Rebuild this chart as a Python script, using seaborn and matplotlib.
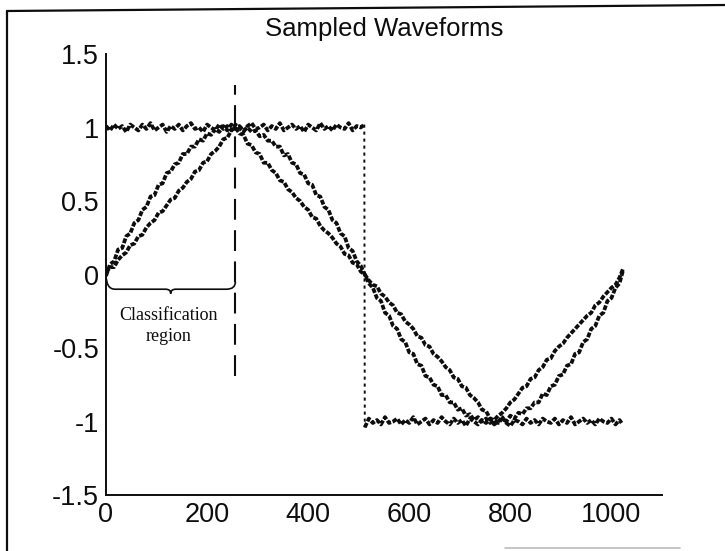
import numpy as np
import pandas as pd
import matplotlib
matplotlib.use("Agg")
import matplotlib.pyplot as plt
from matplotlib.path import Path
from matplotlib.patches import PathPatch
from matplotlib.lines import Line2D
import seaborn as sns

# ---------------- data ----------------
sample_index = list(range(0, 1024, 8)) + [1023]

sine_values = [
    -0.01, 0.07, 0.09, 0.17, 0.18, 0.26, 0.28, 0.35, 0.37, 0.44, 0.46, 0.53, 0.54, 0.61, 0.62, 0.69,
    0.70, 0.75, 0.76, 0.82, 0.82, 0.87, 0.87, 0.92, 0.91, 0.96, 0.95, 0.99, 0.97, 1.01, 0.98, 1.02,
    0.99, 1.01, 0.98, 1.00, 0.97, 0.98, 0.94, 0.95, 0.91, 0.91, 0.87, 0.87, 0.81, 0.82, 0.76, 0.75,
    0.69, 0.68, 0.62, 0.61, 0.54, 0.53, 0.46, 0.44, 0.37, 0.35, 0.28, 0.26, 0.18, 0.16, 0.09, 0.06,
    0.00, -0.06, -0.09, -0.16, -0.18, -0.26, -0.28, -0.35, -0.37, -0.44, -0.46, -0.53, -0.54, -0.61, -0.62, -0.69,
    -0.70, -0.75, -0.76, -0.82, -0.82, -0.87, -0.87, -0.92, -0.91, -0.96, -0.95, -0.99, -0.97, -1.00, -0.98, -1.01,
    -0.99, -1.01, -0.98, -1.00, -0.96, -0.98, -0.94, -0.95, -0.91, -0.91, -0.87, -0.87, -0.81, -0.82, -0.76, -0.75,
    -0.69, -0.68, -0.62, -0.61, -0.54, -0.53, -0.46, -0.44, -0.37, -0.35, -0.28, -0.26, -0.18, -0.16, -0.09, -0.06,
    0.03,
]

triangle_values = [
    0.01, 0.05, 0.05, 0.10, 0.13, 0.15, 0.20, 0.21, 0.26, 0.27, 0.32, 0.35, 0.37, 0.42, 0.43, 0.47,
    0.51, 0.52, 0.57, 0.59, 0.63, 0.65, 0.70, 0.71, 0.76, 0.77, 0.82, 0.84, 0.87, 0.92, 0.93, 0.98,
    1.00, 0.96, 0.95, 0.89, 0.88, 0.83, 0.82, 0.76, 0.76, 0.71, 0.69, 0.64, 0.63, 0.58, 0.56, 0.52,
    0.50, 0.46, 0.44, 0.39, 0.38, 0.33, 0.30, 0.28, 0.25, 0.21, 0.19, 0.14, 0.13, 0.08, 0.07, 0.02,
    0.00, -0.04, -0.07, -0.08, -0.13, -0.15, -0.19, -0.21, -0.26, -0.27, -0.32, -0.34, -0.37, -0.42, -0.43, -0.48,
    -0.49, -0.54, -0.56, -0.59, -0.63, -0.65, -0.70, -0.71, -0.76, -0.77, -0.82, -0.84, -0.87, -0.92, -0.93, -0.98,
    -0.99, -0.96, -0.94, -0.91, -0.87, -0.85, -0.81, -0.77, -0.76, -0.71, -0.70, -0.65, -0.63, -0.58, -0.57, -0.52,
    -0.49, -0.47, -0.43, -0.40, -0.37, -0.34, -0.31, -0.28, -0.26, -0.21, -0.19, -0.15, -0.12, -0.09, -0.07, -0.02,
    0.04,
]

square_high_index = list(range(0, 512, 8)) + [511]
square_high_values = [
    1.01, 0.98, 1.02, 0.99, 1.01, 0.97, 1.02, 1.00, 0.98, 1.02, 0.99, 1.03, 0.98, 1.00, 1.02, 0.97,
    1.01, 0.99, 1.02, 0.98, 1.01, 1.03, 0.99, 1.00, 0.97, 1.02, 1.00, 0.98, 1.02, 0.99, 1.01, 0.98,
    1.02, 1.00, 0.97, 1.01, 1.03, 0.99, 1.00, 1.02, 0.98, 1.01, 0.99, 1.03, 0.98, 1.00, 1.02, 0.99,
    1.01, 0.97, 1.02, 1.00, 0.98, 1.03, 0.99, 1.01, 0.98, 1.02, 1.00, 0.99, 1.03, 0.98, 1.01, 1.00,
    1.02,
]
square_low_index = list(range(512, 1024, 8)) + [1020]
square_low_values = [
    -1.04, -0.98, -1.01, -0.99, -1.02, -0.97, -1.01, -1.00, -0.98, -1.02, -0.99, -1.01, -0.97, -1.02, -1.00, -0.98,
    -1.02, -0.99, -1.01, -0.97, -1.00, -1.02, -0.98, -1.01, -0.99, -1.03, -0.98, -1.00, -1.02, -0.99, -1.01, -0.98,
    -1.02, -1.00, -0.97, -1.01, -1.03, -0.99, -1.00, -1.02, -0.98, -1.01, -0.99, -1.02, -0.98, -1.00, -1.01, -0.98,
    -1.02, -0.99, -1.01, -0.97, -1.02, -1.00, -0.98, -1.01, -0.99, -1.02, -0.98, -1.00, -1.01, -0.98, -1.02, -0.99,
    -1.01,
]

x_ticks = [0, 200, 400, 600, 800, 1000]
x_tick_labels = ["0", "200", "400", "600", "800", "1000"]
y_ticks = [-1.5, -1, -0.5, 0, 0.5, 1, 1.5]
y_tick_labels = ["-1.5", "-1", "-0.5", "0", "0.5", "1", "1.5"]

region_start, region_end = 0, 256
marker_line_span = (-0.69, 1.29)

title_text = "Sampled Waveforms"
region_label = "Classification\nregion"

# ---------------- figure ----------------
sns.set_theme(style="white")
plt.rcParams["font.family"] = ["Liberation Sans", "DejaVu Sans"]

fig = plt.figure(figsize=(7.25, 5.51), dpi=100)
fig.patch.set_facecolor("white")
ax = fig.add_axes([0.1462, 0.1016, 0.7669, 0.8004])
ax.set_facecolor("white")

ink = "#0d0d0d"
trace_style = dict(color=ink, linewidth=2.7, dashes=(1.3, 0.45), legend=False,
                   sort=False, estimator=None)

df_sine = pd.DataFrame({"n": sample_index, "v": sine_values})
df_tri = pd.DataFrame({"n": sample_index, "v": triangle_values})
df_sqh = pd.DataFrame({"n": square_high_index, "v": square_high_values})
df_sql = pd.DataFrame({"n": square_low_index, "v": square_low_values})

sns.lineplot(data=df_sine, x="n", y="v", ax=ax, **trace_style)
sns.lineplot(data=df_tri, x="n", y="v", ax=ax, **trace_style)
sns.lineplot(data=df_sqh, x="n", y="v", ax=ax, **trace_style)
sns.lineplot(data=df_sql, x="n", y="v", ax=ax, **trace_style)

# square-wave transition (dotted)
ax.plot([square_high_index[-1], square_low_index[0]],
        [square_high_values[-1], square_low_values[0]],
        color=ink, linewidth=1.4, linestyle=(0, (1.6, 2.0)))

# classification boundary (dashed)
ax.plot([region_end, region_end], list(marker_line_span),
        color=ink, linewidth=1.5, linestyle=(0, (10, 5)))

# brace under the classification region
yl, yb, yr = 0.0, -0.10, -0.05
tip = yb - 0.03
xm = (region_start + region_end) / 2
verts = [
    (region_start, yl),
    (region_start, yb), (region_start + 18, yb),
    (xm - 10, yb),
    (xm, yb), (xm, tip),
    (xm, yb), (xm + 10, yb),
    (region_end - 18, yb),
    (region_end, yb), (region_end, yr),
]
codes = [Path.MOVETO,
         Path.CURVE3, Path.CURVE3,
         Path.LINETO,
         Path.CURVE3, Path.CURVE3,
         Path.CURVE3, Path.CURVE3,
         Path.LINETO,
         Path.CURVE3, Path.CURVE3]
ax.add_patch(PathPatch(Path(verts, codes), facecolor="none", edgecolor=ink, linewidth=1.2))

ax.text(123, -0.35, region_label, ha="center", va="center", fontsize=13,
        family=["Liberation Serif", "DejaVu Serif"], linespacing=1.3, color=ink)

# axes styling (MATLAB-like, box off)
ax.set_xlim(0, 1100)
ax.set_ylim(-1.5, 1.5)
ax.set_xticks(x_ticks)
ax.set_xticklabels(x_tick_labels)
ax.set_yticks(y_ticks)
ax.set_yticklabels(y_tick_labels)
ax.set_xlabel("")
ax.set_ylabel("")
for side in ["top", "right"]:
    ax.spines[side].set_visible(False)
for side in ["left", "bottom"]:
    ax.spines[side].set_visible(True)
    ax.spines[side].set_color(ink)
    ax.spines[side].set_linewidth(1.4)
ax.tick_params(axis="both", direction="in", length=5, width=1.1, colors=ink,
               labelsize=19.5, labelcolor=ink)
ax.tick_params(axis="x", pad=5)
ax.tick_params(axis="y", pad=5)
ax.grid(False)

ax.set_title(title_text, fontsize=18.5, color=ink, pad=13)

# scanned page frame
fig.add_artist(Line2D([7 / 725, 1.0], [1 - 11 / 551, 1 - 5 / 551], transform=fig.transFigure,
                      color=ink, linewidth=1.6))
fig.add_artist(Line2D([7 / 725, 7 / 725], [1 - 11 / 551, 0.0], transform=fig.transFigure,
                      color=ink, linewidth=1.6))
fig.add_artist(Line2D([505 / 725, 680 / 725], [3 / 551, 3 / 551], transform=fig.transFigure,
                      color="#bbbbbb", linewidth=1.2))

fig.savefig("out.png", dpi=100, facecolor="white")
